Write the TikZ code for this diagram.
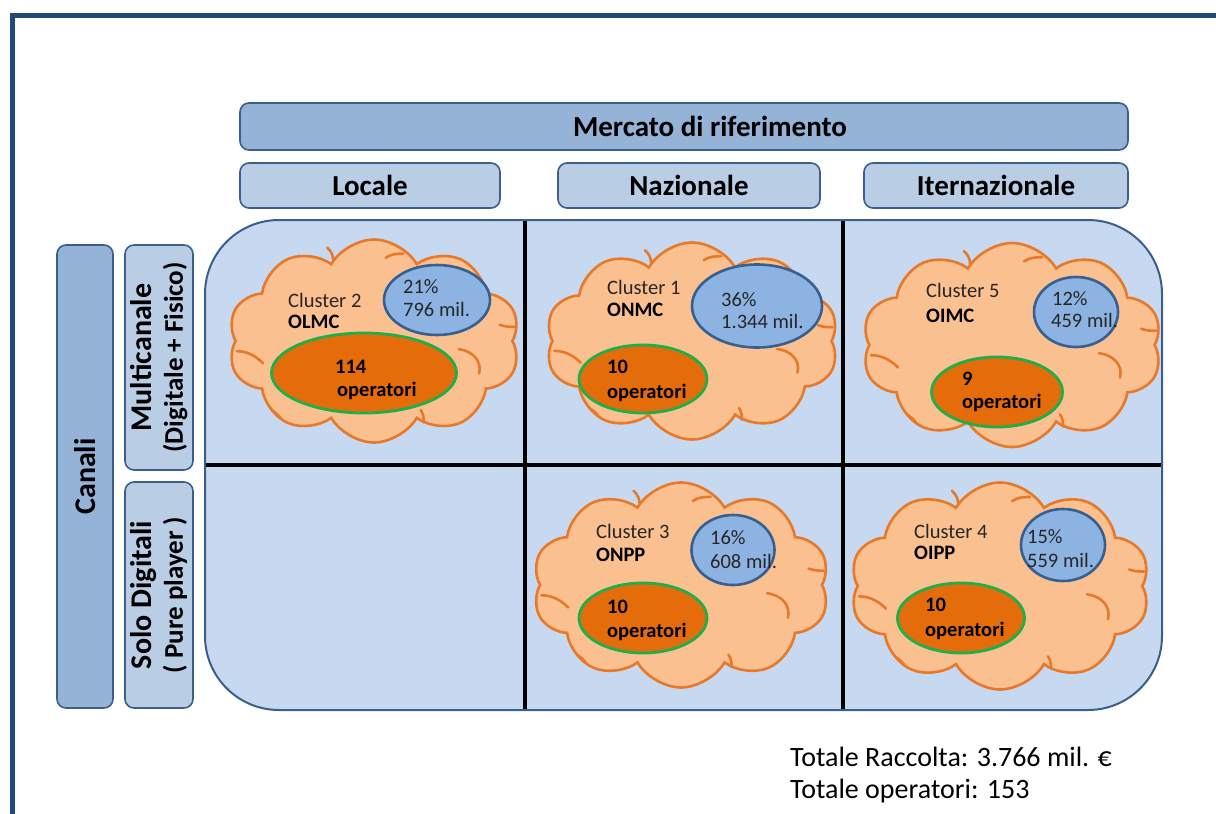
\documentclass[tikz,border=0pt]{standalone}
\usepackage{fontspec}
\setmainfont{Carlito}
\usetikzlibrary{shapes.geometric,shapes.symbols}

\definecolor{frameblue}{HTML}{24487A}
\definecolor{boxline}{HTML}{3B5E8C}
\definecolor{darkhead}{HTML}{95B3D7}
\definecolor{lighthead}{HTML}{B9CDE5}
\definecolor{panelfill}{HTML}{C6D9F1}
\definecolor{cloudfill}{HTML}{FAC090}
\definecolor{cloudline}{HTML}{E8792A}
\definecolor{sharefill}{HTML}{8DB3E2}
\definecolor{shareline}{HTML}{36608F}
\definecolor{opfill}{HTML}{E46C0A}
\definecolor{opline}{HTML}{1DAF4B}
\definecolor{textgray}{HTML}{262626}

\tikzset{
  headbox/.style={draw=boxline, line width=1.6pt, rounded corners=9pt, inner sep=0pt,
    font=\fontsize{29}{31}\selectfont\bfseries, text=black},
  cloudbox/.style={cloud, cloud puffs=10, cloud puff arc=120, cloud ignores aspect,
    draw=cloudline, fill=cloudfill, line width=2.6pt, inner sep=0pt},
  cloudmark/.style={draw=cloudline, line width=2.6pt, line cap=round},
  sharebox/.style={ellipse, draw=shareline, fill=sharefill, line width=2.6pt, inner sep=0pt},
  opbox/.style={ellipse, draw=opline, fill=opfill, line width=2.8pt, inner sep=0pt},
  gridline/.style={line width=3.2pt, black},
  lbl/.style={anchor=west, inner sep=0pt, font=\fontsize{20.5}{22}\selectfont, text=textgray},
  lblb/.style={anchor=west, inner sep=0pt, font=\fontsize{20.5}{22}\selectfont\bfseries, text=black},
  total/.style={anchor=west, inner sep=0pt, font=\fontsize{28}{30}\selectfont, text=black},
}

% inner fold strokes of a cloud: node name, width, height
\newcommand\cloudfolds[3]{%
  \begin{scope}[shift={(#1.center)}, xscale=#2, yscale=#3]
    \draw[cloudmark] (-0.47,0.05) .. controls (-0.43,0.05) and (-0.40,0.08) .. (-0.38,0.11);
    \draw[cloudmark] (0.29,0.04) .. controls (0.34,0.05) and (0.37,0.10) .. (0.36,0.16);
    \draw[cloudmark] (-0.16,-0.46) .. controls (-0.145,-0.44) and (-0.14,-0.42) .. (-0.14,-0.40);
    \draw[cloudmark] (0.04,-0.41) .. controls (0.06,-0.43) and (0.08,-0.43) .. (0.10,-0.43);
    \draw[cloudmark] (0.43,-0.08) .. controls (0.45,-0.07) and (0.46,-0.07) .. (0.48,-0.07);
    \draw[cloudmark] (0.16,0.34) .. controls (0.17,0.36) and (0.17,0.38) .. (0.17,0.40);
    \draw[cloudmark] (-0.35,0.34) .. controls (-0.34,0.35) and (-0.33,0.36) .. (-0.32,0.38);
  \end{scope}}

\begin{document}
\begin{tikzpicture}[x=1pt, y=-1pt]
\useasboundingbox (0,0) rectangle (1216,814);

% outer frame (top and left edges)
\draw[frameblue, line width=5pt] (12,818) -- (12,15) -- (1220,15);

% column headers
\node[headbox, fill=darkhead, minimum width=888pt, minimum height=47pt] (mercato) at (684,126.5) {\hspace*{52pt}Mercato di riferimento};
\node[headbox, fill=lighthead, minimum width=260pt, minimum height=45pt] (locale) at (370,185.5) {Locale};
\node[headbox, fill=lighthead, minimum width=262pt, minimum height=45pt] (nazionale) at (689,185.5) {Nazionale};
\node[headbox, fill=lighthead, minimum width=264pt, minimum height=45pt] (inter) at (996,185.5) {Iternazionale};

% row headers
\node[headbox, fill=darkhead, minimum width=463pt, minimum height=56pt, rotate=90, font=\fontsize{30}{32}\selectfont\bfseries] (canali) at (85,476.5) {Canali};
\node[headbox, fill=lighthead, minimum width=225pt, minimum height=68pt, rotate=90, align=center,
  font=\fontsize{30}{32}\selectfont\bfseries] (multi) at (159,357.5)
  {Multicanale\\[-1pt]{\fontsize{27}{29}\selectfont (Digitale + Fisico)}};
\node[headbox, fill=lighthead, minimum width=226pt, minimum height=68pt, rotate=90, align=center,
  font=\fontsize{30}{32}\selectfont\bfseries] (solo) at (159,595)
  {Solo Digitali\\[-1pt]{\fontsize{27}{29}\selectfont ( Pure player )}};

% matrix panel
\draw[boxline, line width=2pt, fill=panelfill, rounded corners=74pt] (205,220) rectangle (1162,710);
\coordinate (v1t) at (525,221); \coordinate (v1b) at (525,709);
\coordinate (v2t) at (843,221); \coordinate (v2b) at (843,709);
\coordinate (hl) at (206,465); \coordinate (hr) at (1161,465);
\draw[gridline] (v1t) -- (v1b);
\draw[gridline] (v2t) -- (v2b);
\draw[gridline] (hl) -- (hr);

% Cluster 2 - locale, multicanale
\node[cloudbox, minimum width=292pt, minimum height=203pt] (c2) at (374,341) {};
\cloudfolds{c2}{292}{203}
\node[sharebox, minimum width=106pt, minimum height=70pt] (s2) at (437,300) {};
\node[opbox, minimum width=185pt, minimum height=80pt] (o2) at (364,373) {};
\node[lbl] (c2a) at (288,300) {Cluster 2};
\node[lblb] (c2b) at (288,322) {OLMC};
\node[lbl] (s2a) at (403,287) {21\%};
\node[lbl] (s2b) at (403,309) {796 mil.};
\node[lblb] (o2a) at (335,367) {114};
\node[lblb] (o2b) at (337,391) {operatori};

% Cluster 1 - nazionale, multicanale
\node[cloudbox, minimum width=293pt, minimum height=197pt] (c1) at (692,341) {};
\cloudfolds{c1}{293}{197}
\node[sharebox, minimum width=130pt, minimum height=83pt] (s1) at (757,306) {};
\node[opbox, minimum width=128pt, minimum height=68pt] (o1) at (643,379) {};
\node[lbl] (c1a) at (607,287) {Cluster 1};
\node[lblb] (c1b) at (607,310) {ONMC};
\node[lbl] (s1a) at (721,300) {36\%};
\node[lbl] (s1b) at (721,321) {1.344 mil.};
\node[lblb] (o1a) at (607,367) {10};
\node[lblb] (o1b) at (607,393) {operatori};

% Cluster 5 - internazionale, multicanale
\node[cloudbox, minimum width=300pt, minimum height=204pt] (c5) at (1012,345) {};
\cloudfolds{c5}{300}{204}
\node[sharebox, minimum width=84pt, minimum height=70pt] (s5) at (1076,312) {};
\node[opbox, minimum width=131pt, minimum height=70pt] (o5) at (997,392) {};
\node[lbl] (c5a) at (926,290) {Cluster 5};
\node[lblb] (c5b) at (926,316) {OIMC};
\node[lbl] (s5a) at (1052,299) {12\%};
\node[lbl] (s5b) at (1051,320) {459 mil.};
\node[lblb] (o5a) at (962,379) {9};
\node[lblb] (o5b) at (962,403) {operatori};

% Cluster 3 - nazionale, pure player
\node[cloudbox, minimum width=297pt, minimum height=205pt] (c3) at (681,585) {};
\cloudfolds{c3}{297}{205}
\node[sharebox, minimum width=83pt, minimum height=70pt] (s3) at (733,550) {};
\node[opbox, minimum width=128pt, minimum height=70pt] (o3) at (643,618) {};
\node[lbl] (c3a) at (596,531) {Cluster 3};
\node[lblb] (c3b) at (596,555) {ONPP};
\node[lbl] (s3a) at (710,538) {16\%};
\node[lbl] (s3b) at (710,561) {608 mil.};
\node[lblb] (o3a) at (607,607) {10};
\node[lblb] (o3b) at (607,632) {operatori};

% Cluster 4 - internazionale, pure player
\node[cloudbox, minimum width=300pt, minimum height=207pt] (c4) at (1000,586) {};
\cloudfolds{c4}{300}{207}
\node[sharebox, minimum width=84pt, minimum height=72pt] (s4) at (1063,545) {};
\node[opbox, minimum width=127pt, minimum height=70pt] (o4) at (961,618) {};
\node[lbl] (c4a) at (914,531) {Cluster 4};
\node[lblb] (c4b) at (914,553) {OIPP};
\node[lbl] (s4a) at (1027,537) {15\%};
\node[lbl] (s4b) at (1027,560) {559 mil.};
\node[lblb] (o4a) at (925,605) {10};
\node[lblb] (o4b) at (925,631) {operatori};

% totals
\node[total] (tot1) at (790,757) {Totale Raccolta: 3.766 mil. €};
\node[total] (tot2) at (790,791) {Totale operatori: 153};
\end{tikzpicture}
\end{document}
